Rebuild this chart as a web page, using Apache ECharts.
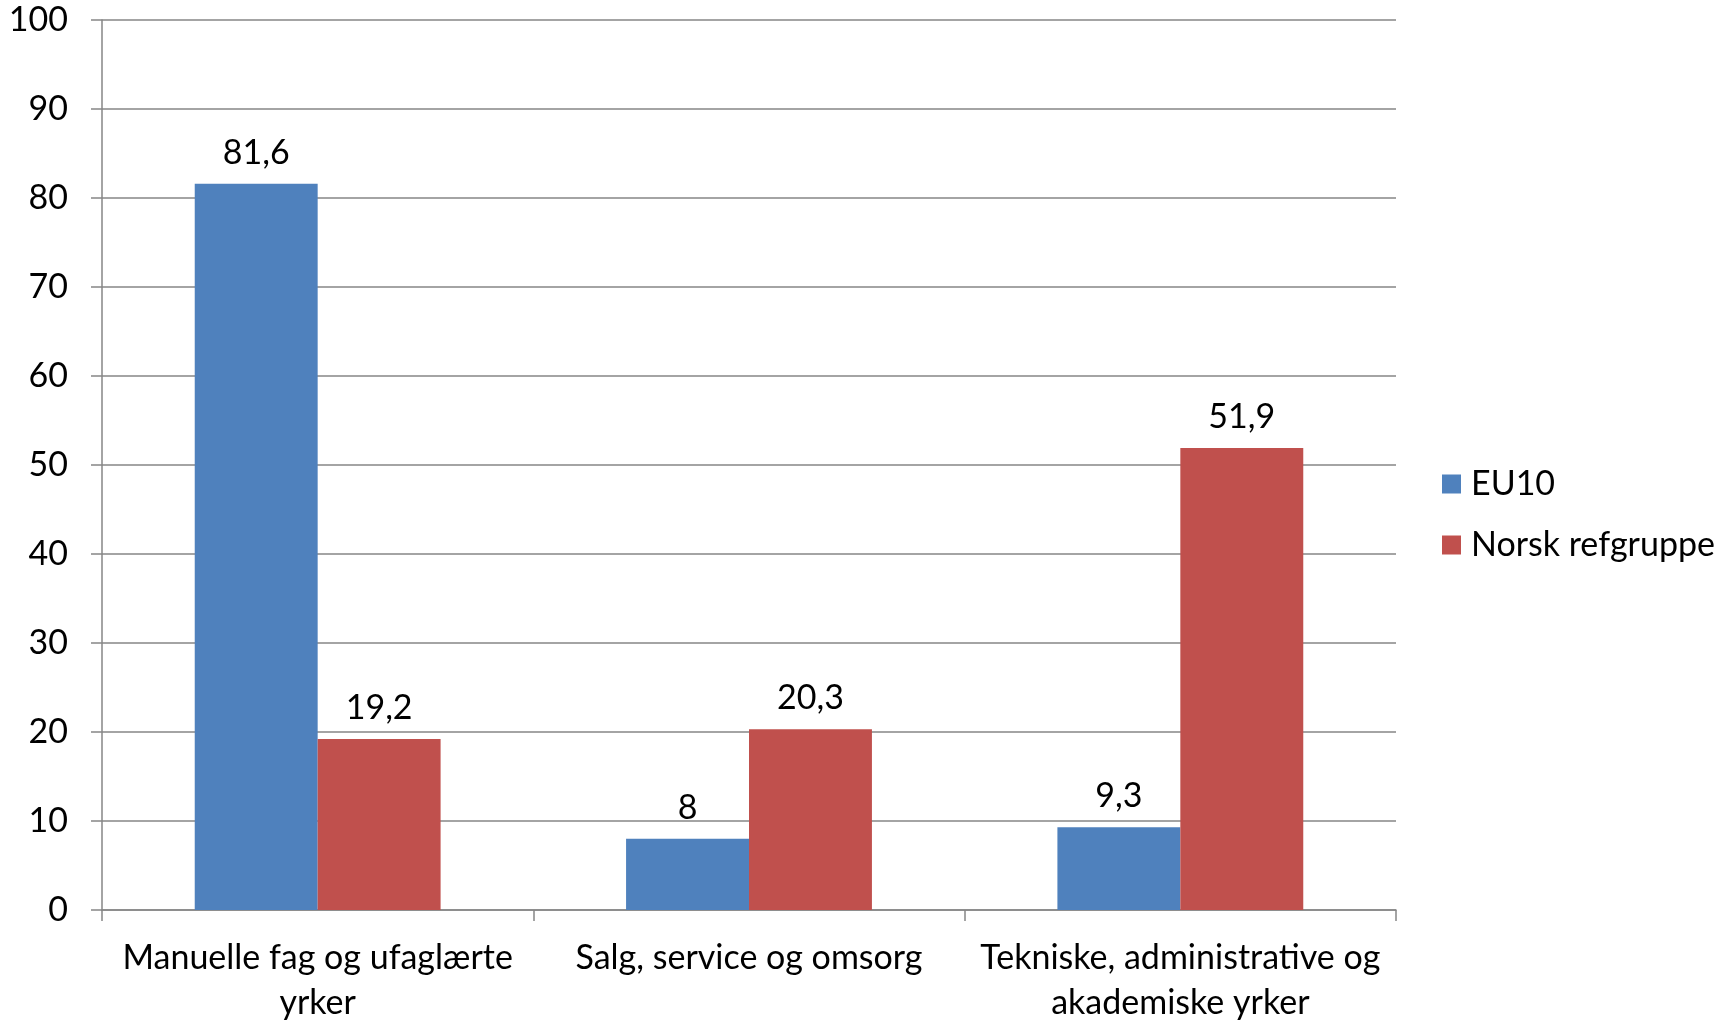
<!DOCTYPE html>
<html>
<head>
    <meta charset="utf-8" />
    <script type="text/javascript" src="https://cdn.jsdelivr.net/npm/echarts@6.0.0/dist/echarts.min.js"></script>
    <style>
      body { margin: 0; background: #ffffff; }
      #container { width: 1734px; height: 1022px; }
    </style>
</head>
<body>
<div id="container"></div>
<script>
// data
var categories = ['Manuelle fag og ufaglærte\nyrker', 'Salg, service og omsorg', 'Tekniske, administrative og\nakademiske yrker'];
var seriesNames = ['EU10', 'Norsk refgruppe'];
var eu10 = [81.6, 8, 9.3];
var norsk = [19.2, 20.3, 51.9];
var colors = ['#4F81BD', '#C0504D'];

var font = 'Lato';

function commaLabel(p) {
  return String(p.value).replace('.', ',');
}

var myChart = echarts.init(document.getElementById('container'));

var option = {
  animation: false,
  color: colors,
  grid: {
    left: 102,
    right: 338,
    top: 20,
    bottom: 112,
    outerBoundsMode: 'none'
  },
  legend: {
    orient: 'vertical',
    left: 1437,
    top: 462,
    itemWidth: 19,
    itemHeight: 19,
    itemGap: 27,
    icon: 'rect',
    textStyle: { fontFamily: font, fontSize: 34, lineHeight: 34, color: '#000', padding: [0, 0, 0, 5] },
    data: seriesNames
  },
  xAxis: {
    type: 'category',
    data: categories,
    axisLine: { lineStyle: { color: '#868686', width: 1.5 } },
    axisTick: { show: true, length: 11, lineStyle: { color: '#868686', width: 1.5 } },
    axisLabel: {
      fontFamily: font, fontSize: 34, color: '#000', lineHeight: 45, margin: 26, interval: 0
    }
  },
  yAxis: {
    type: 'value',
    min: 0,
    max: 100,
    interval: 10,
    axisLine: { show: true, lineStyle: { color: '#868686', width: 1.5 } },
    axisTick: { show: true, length: 11, lineStyle: { color: '#868686', width: 1.5 } },
    splitLine: { lineStyle: { color: '#868686', width: 1.5 } },
    axisLabel: { fontFamily: font, fontSize: 34, color: '#000', margin: 34 }
  },
  series: [
    {
      name: seriesNames[0],
      type: 'bar',
      data: eu10,
      barGap: '0%',
      barCategoryGap: '43%',
      label: { show: true, position: 'top', distance: 14, formatter: commaLabel,
        fontFamily: font, fontSize: 34, color: '#000' }
    },
    {
      name: seriesNames[1],
      type: 'bar',
      data: norsk,
      barGap: '0%',
      barCategoryGap: '43%',
      label: { show: true, position: 'top', distance: 14, formatter: commaLabel,
        fontFamily: font, fontSize: 34, color: '#000' }
    }
  ]
};

myChart.setOption(option);
</script>
</body>
</html>
